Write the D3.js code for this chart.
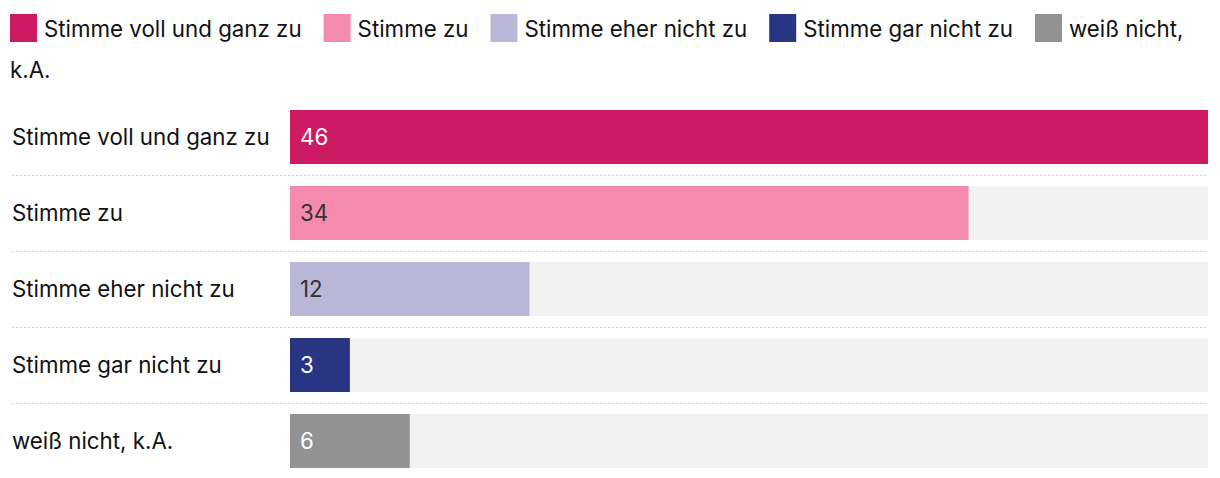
<!DOCTYPE html>
<html><head><meta charset="utf-8">
<script src="https://cdn.jsdelivr.net/npm/d3@7"></script>
<style>
html,body{margin:0;padding:0;background:#fff;}
svg{display:block;}
text{font-family:Inter,"Noto Sans",sans-serif;}
</style></head>
<body>
<svg id="chart" width="1220" height="478"></svg>
<script>
const categories = ["Stimme voll und ganz zu","Stimme zu","Stimme eher nicht zu","Stimme gar nicht zu","weiß nicht, k.A."];
const values = [46,34,12,3,6];
const colors = ["#cc1a63","#f48aae","#b9b7d7","#283583","#929292"];
const labelColors = ["#ffffff","#333333","#333333","#ffffff","#ffffff"];
const legendLabels = ["Stimme voll und ganz zu","Stimme zu","Stimme eher nicht zu","Stimme gar nicht zu","weiß nicht, k.A."];

const svg = d3.select("#chart");
const fontSize = 22.3;

// Legend with word wrapping
const legend = svg.append("g");
const legendRight = 1210, lineH = 41, sw = 27, sh = 28;
let lx = 10, ly = 14;
legendLabels.forEach((lab,i)=>{
  legend.append("rect").attr("x",lx).attr("y",ly).attr("width",sw).attr("height",sh).attr("fill",colors[i]);
  lx += sw + 7;
  const words = lab.split(" ");
  let t = legend.append("text").attr("x",lx).attr("y",ly+sh/2+1).attr("dy","0.35em")
    .attr("font-size",fontSize).attr("fill","#111");
  let line = "";
  let startX = lx;
  words.forEach((w)=>{
    const test = line ? line+" "+w : w;
    t.text(test);
    if (startX + t.node().getComputedTextLength() > legendRight && line) {
      t.text(line);
      ly += lineH; startX = 10;
      t = legend.append("text").attr("x",startX).attr("y",ly+sh/2+1).attr("dy","0.35em")
        .attr("font-size",fontSize).attr("fill","#111").text(w);
      line = w;
    } else line = test;
  });
  lx = startX + t.node().getComputedTextLength() + 22;
});

// Bars
const x = d3.scaleLinear().domain([0, d3.max(values)]).range([290, 1208]);
const y = d3.scaleBand().domain(categories).range([110, 468]).paddingInner(22/76).paddingOuter(0);
const bh = y.bandwidth();
const gap = y.step() - bh;

const g = svg.append("g");
categories.forEach((c,i)=>{
  const yy = y(c);
  g.append("rect").attr("x",x(0)).attr("y",yy).attr("width",x(d3.max(values))-x(0)).attr("height",bh).attr("fill","#f2f2f2");
  g.append("rect").attr("x",x(0)).attr("y",yy).attr("width",x(values[i])-x(0)).attr("height",bh).attr("fill",colors[i]);
  g.append("text").attr("x",x(0)+10).attr("y",yy+bh/2).attr("dy","0.35em")
    .attr("font-size",fontSize).attr("fill",labelColors[i]).text(values[i]);
  g.append("text").attr("x",12).attr("y",yy+bh/2).attr("dy","0.35em")
    .attr("font-size",fontSize).attr("fill","#111").text(c);
  if (i < categories.length-1) {
    const ly2 = Math.round(yy+bh+gap/2)+0.5;
    g.append("line").attr("x1",12).attr("x2",1208).attr("y1",ly2).attr("y2",ly2)
      .attr("stroke","#cfcfcf").attr("stroke-width",1).attr("stroke-dasharray","2,2");
  }
});
</script>
</body></html>
